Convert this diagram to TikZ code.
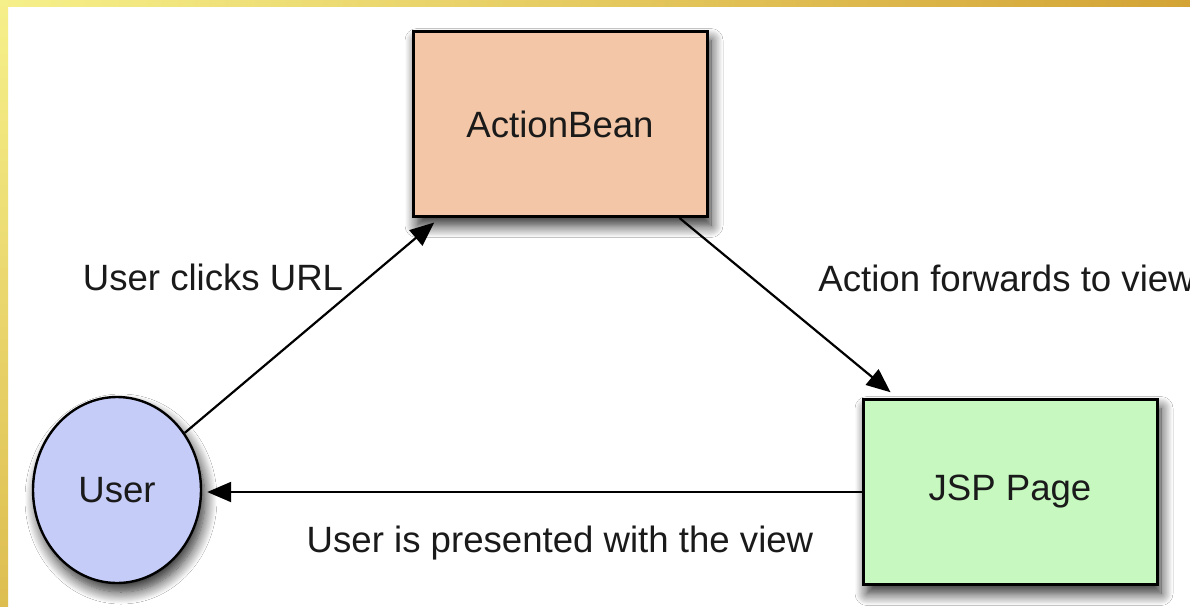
\documentclass[tikz,border=0pt]{standalone}
\usepackage{fontspec}
\setmainfont{Liberation Sans}
\usetikzlibrary{shadows.blur,arrows.meta,shapes.geometric}
\definecolor{abfill}{HTML}{F2C6A6}
\definecolor{jspfill}{HTML}{C6F8C0}
\definecolor{userfill}{HTML}{C5CCF8}
\definecolor{goldA}{HTML}{F6F08A}
\definecolor{goldB}{HTML}{D3A335}
\definecolor{goldC}{HTML}{DDBD50}
\definecolor{ink}{HTML}{1A1A1A}
\tikzset{
  txt/.style={font=\fontsize{18.3pt}{22pt}\selectfont, text=ink},
  softshadow/.style={blur shadow={shadow xshift=2pt, shadow yshift=-4.5pt, shadow blur radius=6pt, shadow blur steps=14, shadow opacity=85}},
  boxnode/.style={txt, draw=black, line width=1.5pt, minimum width=147pt, minimum height=92.5pt, inner sep=0pt, softshadow},
  usernode/.style={txt, ellipse, draw=black, line width=1.2pt, fill=userfill, minimum width=84pt, minimum height=93pt, inner sep=0pt, softshadow},
  conn/.style={line width=1.1pt, black, -{Triangle[length=12pt,width=10pt]}},
  lbl/.style={txt, inner sep=0pt}
}
\begin{document}
\begin{tikzpicture}[x=0.5pt,y=-0.5pt]
\useasboundingbox (0,0) rectangle (1190,606);
\clip (0,0) rectangle (1190,606);
\fill[white] (0,0) rectangle (1190,606);
\shade[left color=goldA, right color=goldB] (0,0) rectangle (1190,6);
\shade[top color=goldA, bottom color=goldC] (0,0) rectangle (8,606);

\node[boxnode, fill=abfill] (ab) at (560,124) {ActionBean};
\node[boxnode, fill=jspfill] (jsp) at (1010,492) {JSP Page};
\node[usernode] (user) at (117,490) {User};

\draw[conn, shorten >=3.5pt] (user) -- ([xshift=14pt]ab.south west);
\draw[conn, shorten >=4.5pt] ([xshift=-14.5pt]ab.south east) -- ([xshift=18pt]jsp.north west);
\draw[conn, shorten >=2.5pt] (jsp.west) -- (user.east |- jsp.west);

\node[lbl] (l1) at (213,277) {User clicks URL};
\node[lbl, anchor=west] (l2) at (818,278) {Action forwards to view};
\node[lbl] (l3) at (560,543) {User is presented with the view};
\end{tikzpicture}
\end{document}
